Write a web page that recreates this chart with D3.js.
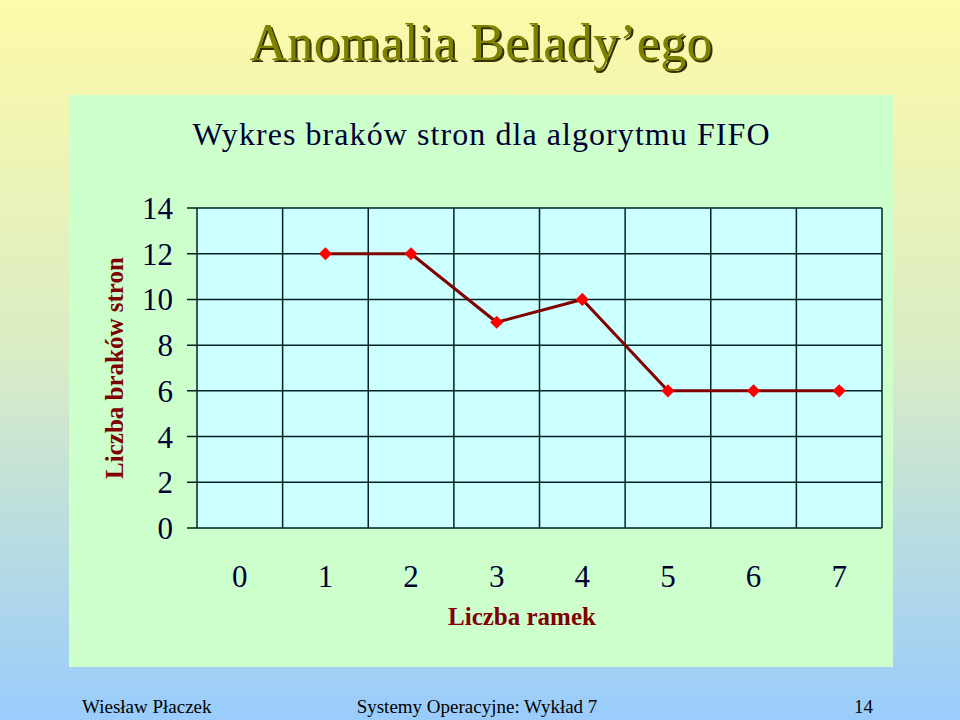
<!DOCTYPE html>
<html><head><meta charset="utf-8">
<script src="https://cdn.jsdelivr.net/npm/d3@7"></script>
<style>body{margin:0}svg{display:block}</style>
</head><body>
<script>
const frames = [0,1,2,3,4,5,6,7];
const faults = [null,12,12,9,10,6,6,6];
const yTicks = [0,2,4,6,8,10,12,14];

const W=960,H=720;
const svg=d3.select("body").append("svg").attr("width",W).attr("height",H);
const defs=svg.append("defs");
const g=defs.append("linearGradient").attr("id","bg").attr("x1",0).attr("y1",0).attr("x2",0).attr("y2",1);
g.append("stop").attr("offset","0%").attr("stop-color","#fdfaa8");
g.append("stop").attr("offset","50%").attr("stop-color","#d9ecc6");
g.append("stop").attr("offset","100%").attr("stop-color","#99ccfc");
svg.append("rect").attr("width",W).attr("height",H).attr("fill","url(#bg)");

const serif="'Liberation Serif','Times New Roman',serif";
svg.append("text").attr("x",481).attr("y",60).attr("text-anchor","middle").attr("font-family",serif)
 .attr("font-size",52).attr("fill","#808000").style("text-shadow","2px 2px 0 #333300")
 .attr("textLength",463).text("Anomalia Belady’ego");

svg.append("rect").attr("x",69).attr("y",95).attr("width",824).attr("height",572).attr("fill","#ccffcc");
svg.append("text").attr("x",481).attr("y",145).attr("text-anchor","middle").attr("font-family",serif)
 .attr("font-size",32).attr("fill","#000033").attr("textLength",577).text("Wykres braków stron dla algorytmu FIFO");

const L=197,R=882,T=208,B=528;
const x=d3.scaleBand().domain(frames).range([L,R]);
const y=d3.scaleLinear().domain([0,14]).range([B,T]);
svg.append("rect").attr("x",L).attr("y",T).attr("width",R-L).attr("height",B-T).attr("fill","#ccffff");
const grid=svg.append("g").attr("stroke","#002222").attr("stroke-width",1.5);
yTicks.forEach(t=>grid.append("line").attr("x1",L-10).attr("x2",R).attr("y1",y(t)).attr("y2",y(t)));
frames.forEach(f=>grid.append("line").attr("x1",x(f)).attr("x2",x(f)).attr("y1",T).attr("y2",B));
grid.append("line").attr("x1",R).attr("x2",R).attr("y1",T).attr("y2",B);

svg.selectAll(".yl").data(yTicks).enter().append("text").attr("x",173).attr("y",d=>y(d)+11)
 .attr("text-anchor","end").attr("font-family",serif).attr("font-size",31).attr("fill","#000033").text(d=>d);
svg.selectAll(".xl").data(frames).enter().append("text").attr("x",d=>x(d)+x.bandwidth()/2).attr("y",587)
 .attr("text-anchor","middle").attr("font-family",serif).attr("font-size",31).attr("fill","#000033").text(d=>d);
svg.append("text").attr("x",522).attr("y",625).attr("text-anchor","middle").attr("font-family",serif)
 .attr("font-size",25).attr("font-weight","bold").attr("fill","#800000").text("Liczba ramek");
svg.append("text").attr("transform","translate(123,368) rotate(-90)").attr("text-anchor","middle").attr("font-family",serif)
 .attr("font-size",25).attr("font-weight","bold").attr("fill","#800000").text("Liczba braków stron");

const pts=frames.map((f,i)=>({f,v:faults[i]})).filter(d=>d.v!=null);
const line=d3.line().x(d=>x(d.f)+x.bandwidth()/2).y(d=>y(d.v));
svg.append("path").datum(pts).attr("d",line).attr("fill","none").attr("stroke","#800000").attr("stroke-width",3);
svg.selectAll(".m").data(pts).enter().append("path").attr("d",d3.symbol(d3.symbolDiamond2,110))
 .attr("transform",d=>`translate(${x(d.f)+x.bandwidth()/2},${y(d.v)})`).attr("fill","#ff0000");

const ft=[["Wiesław Płaczek",82,"start"],["Systemy Operacyjne: Wykład 7",477,"middle"],["14",873,"end"]];
ft.forEach(([t,xx,a])=>svg.append("text").attr("x",xx).attr("y",713).attr("text-anchor",a)
 .attr("font-family",serif).attr("font-size",19).attr("fill","#000").text(t));
</script>
</body></html>
